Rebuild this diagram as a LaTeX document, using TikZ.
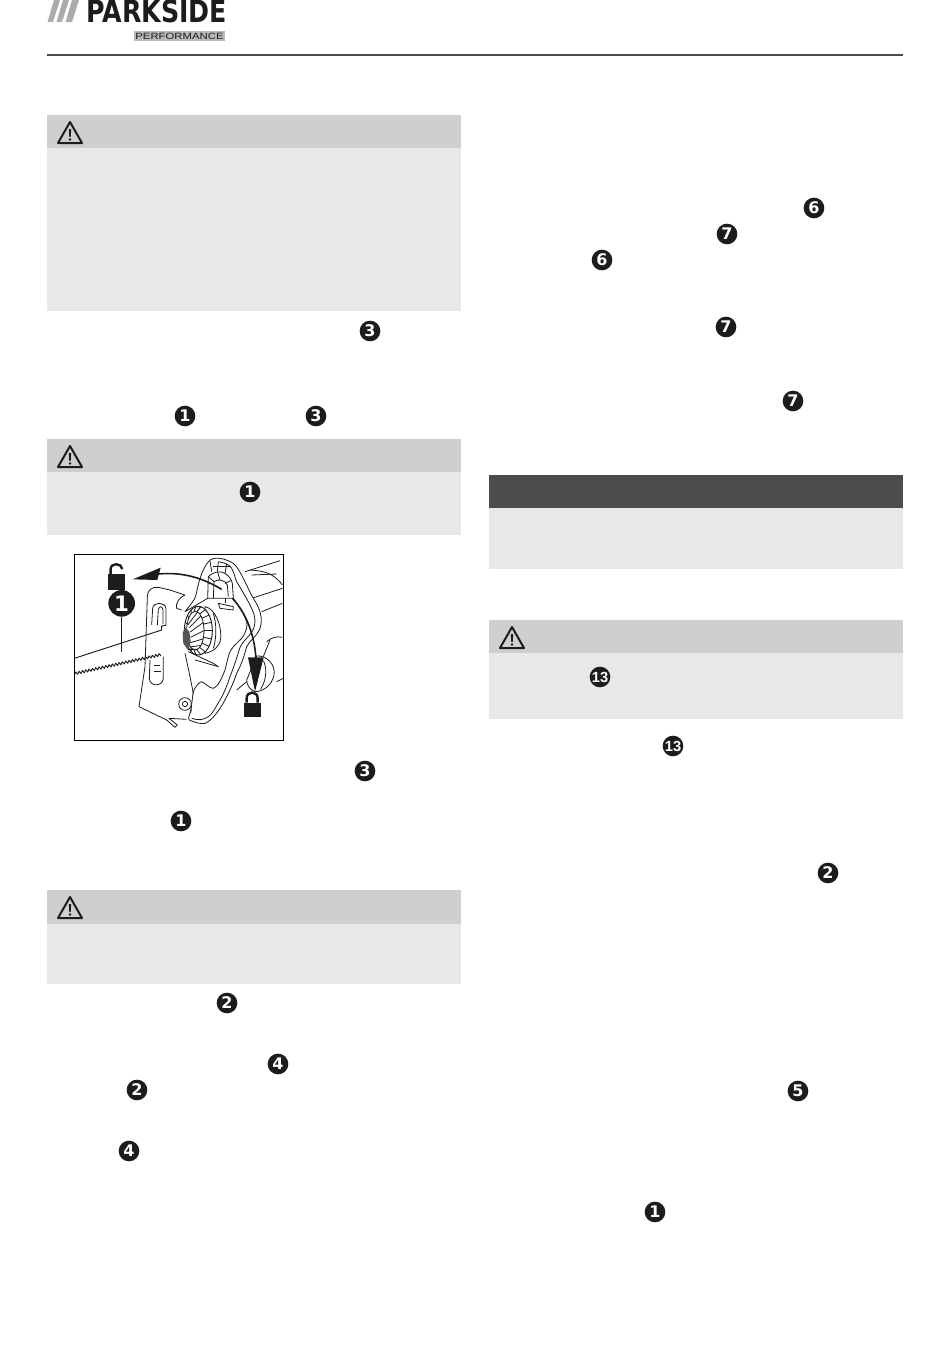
\documentclass[tikz,border=0pt]{standalone}
\usepackage{fontspec}
\setmainfont{Liberation Sans}
\newfontfamily\logofont{DejaVu Sans}
\definecolor{hdr}{HTML}{CFCFCF}
\definecolor{bodyg}{HTML}{E8E8E8}
\definecolor{darkbar}{HTML}{4D4B4B}
\definecolor{ink}{HTML}{1D1B1B}
\tikzset{
  x=0.75pt,y=-0.75pt,
  badge/.style={circle,fill=ink,text=white,inner sep=0pt,minimum size=15.5pt,font=\logofont\bfseries\fontsize{12}{12}\selectfont},
  badgetwo/.style={badge,font=\bfseries\fontsize{11}{11}\selectfont},
  headbar/.style={fill=hdr},
  bodybar/.style={fill=bodyg},
  dkbar/.style={fill=darkbar},
  art/.style={draw=ink,line width=0.6pt,line join=round},
  artw/.style={art,fill=white},
  heavy/.style={draw=ink,line width=1.2pt},
  shackle/.style={draw=ink,line width=1.8pt},
  warn/.pic={
    \draw[ink,line width=1.5pt,line join=round,fill=none] (0,-11) -- (12,10) -- (-12,10) -- cycle;
    \fill[ink] (-1.2,-4) -- (1.2,-4) -- (0.7,4) -- (-0.7,4) -- cycle;
    \fill[ink] (0,6.5) circle (1.3);
  },
}
\begin{document}
\begin{tikzpicture}
\useasboundingbox (0,0) rectangle (950,1364);
% logo
\begin{scope}
\clip (0,0) rectangle (950,60);
\fill[gray!65] (54,0) -- (60,0) -- (53,22) -- (47.5,22) -- cycle;
\fill[gray!65] (63,0) -- (69,0) -- (62,22) -- (56.5,22) -- cycle;
\fill[gray!65] (72,0) -- (79,0) -- (72,22) -- (65.5,22) -- cycle;
\node[anchor=base west,inner sep=0pt,transform shape,xscale=0.825,font=\logofont\bfseries\fontsize{23}{23}\selectfont,text=ink] (brand) at (86,22) {PARKSIDE};
\end{scope}
\fill[gray!55] (134,31) rectangle (225,41);
\node[anchor=center,inner sep=0pt,transform shape,xscale=1.25,font=\fontsize{6.8}{7}\selectfont,text=ink] (perf) at (179.5,36) {PERFORMANCE};
\draw[line width=1.5pt,draw=black!70] (47,55) -- (903,55);
% bars
\fill[headbar] (47,115) rectangle (461,148);
\fill[bodybar] (47,148) rectangle (461,311);
\fill[headbar] (47,439) rectangle (461,472);
\fill[bodybar] (47,472) rectangle (461,535);
\fill[headbar] (47,890) rectangle (461,924);
\fill[bodybar] (47,924) rectangle (461,984);
\fill[dkbar] (489,475) rectangle (903,508);
\fill[bodybar] (489,508) rectangle (903,569);
\fill[headbar] (489,620) rectangle (903,653);
\fill[bodybar] (489,653) rectangle (903,719);
\pic at (70,133) {warn};
\pic at (70,457) {warn};
\pic at (70,908) {warn};
\pic at (512,638) {warn};
% badges
\node[badge] (b1) at (370,331) {3};
\node[badge] (b2) at (185,416) {1};
\node[badge] (b3) at (316,416) {3};
\node[badge] (b4) at (250,492) {1};
\node[badge] (b5) at (365,771) {3};
\node[badge] (b6) at (181,821) {1};
\node[badge] (b7) at (227,1003) {2};
\node[badge] (b8) at (278,1064) {4};
\node[badge] (b9) at (137,1090) {2};
\node[badge] (b10) at (129,1151) {4};
\node[badge] (b11) at (814,208) {6};
\node[badge] (b12) at (727,234) {7};
\node[badge] (b13) at (602,260) {6};
\node[badge] (b14) at (726,327) {7};
\node[badge] (b15) at (793,401) {7};
\node[badgetwo] (b16) at (600,677) {13};
\node[badgetwo] (b17) at (673,746) {13};
\node[badge] (b18) at (828,873) {2};
\node[badge] (b19) at (798,1091) {5};
\node[badge] (b20) at (655,1212) {1};
% figure, coordinates in zoom pixels
\begin{scope}[shift={(70,550)},x=0.25pt,y=-0.25pt]
\begin{scope}
\clip (13,13) rectangle (640,572);
% tool body at the right
\draw[art] (525,65) -- (630,32);
\draw[art] (540,60) .. controls (570,62) and (610,65) .. (637,105);
\draw[art] (545,75) -- (620,72);
\draw[art] (545,145) -- (637,115);
\draw[art] (575,185) -- (637,160);
\draw[art] (590,275) .. controls (605,262) and (620,258) .. (637,262);
\draw[art] (580,320) -- (600,270);
\draw[art] (620,395) -- (640,385);
\draw[art] (500,420) -- (530,395);
\draw[artw] (560,318) .. controls (590,315) and (618,345) .. (612,375) .. controls (605,410) and (575,425) .. (555,425) .. controls (540,420) and (530,405) .. (530,390) -- cycle;
\draw[art] (580,332) .. controls (590,350) and (592,385) .. (572,418);
% blade
\draw[art,line width=0.7pt] (13,325) -- (275,240) -- (275,228) -- (288,226);
\draw[art,line width=0.7pt] (13,375)
 \foreach \i in {1,...,26} { -- ++(4,-9) -- ++(6,6.8) };
% plate
\draw[art] (300,120) -- (345,135) .. controls (330,140) and (315,160) .. (320,175) -- (335,180);
\draw[art] (300,120) -- (265,112) .. controls (245,110) and (232,120) .. (232,142) -- (225,350) -- (207,470) -- (290,510) -- (315,532) -- (322,525) -- (297,505) -- (350,508);
\draw[art] (245,225) -- (248,175) .. controls (250,155) and (285,155) .. (288,175) -- (288,225);
\draw[art] (262,225) -- (265,178) .. controls (268,168) and (276,168) .. (279,178) -- (279,222);
\draw[art] (240,330) -- (238,385) .. controls (238,410) and (278,412) .. (280,385) -- (280,320);
\draw[art] (252,345) -- (270,345);
\draw[art] (252,365) -- (272,365);
\draw[art] (345,310) .. controls (352,340) and (362,390) .. (368,420) .. controls (372,440) and (365,470) .. (360,490);
\draw[art] (345,462) circle (19);
\draw[art] (345,462) circle (8);
% lever
\draw[artw] (345,185) .. controls (360,165) and (375,150) .. (378,135) .. controls (385,100) and (395,55) .. (420,30)
  .. controls (440,18) and (470,28) .. (490,40) .. controls (510,55) and (535,120) .. (550,145)
  .. controls (570,175) and (580,205) .. (570,235) .. controls (560,260) and (540,270) .. (530,290)
  .. controls (520,330) and (510,350) .. (500,370) .. controls (490,400) and (480,420) .. (470,440)
  .. controls (455,470) and (430,510) .. (405,520) .. controls (395,522) and (380,520) .. (358,510)
  .. controls (352,505) and (360,490) .. (363,485) .. controls (365,460) and (368,435) .. (372,420)
  .. controls (380,405) and (390,395) .. (395,395) .. controls (405,400) and (420,415) .. (430,415)
  .. controls (445,410) and (455,385) .. (465,360) -- (475,320) .. controls (480,295) and (500,280) .. (515,265)
  .. controls (530,245) and (535,225) .. (528,210) .. controls (520,185) and (500,160) .. (490,145)
  -- (413,145) -- cycle;
\draw[art] (445,35) .. controls (465,38) and (480,45) .. (485,55) .. controls (495,75) and (495,85) .. (500,95)
  .. controls (515,120) and (530,145) .. (540,165) .. controls (550,185) and (560,205) .. (552,232)
  .. controls (545,255) and (520,270) .. (510,292) .. controls (500,325) and (490,355) .. (480,380)
  .. controls (472,405) and (462,430) .. (450,450) .. controls (435,475) and (425,495) .. (415,500)
  .. controls (400,510) and (385,512) .. (365,505);
\draw[art] (420,32) -- (425,65);
\draw[art] (445,35) -- (442,65);
\draw[art] (470,42) -- (465,70);
\draw[art] (430,50) -- (480,50);
\draw[art] (413,145) -- (415,80) .. controls (425,68) and (450,60) .. (465,70) .. controls (478,78) and (485,90) .. (487,100) -- (490,145);
\draw[art] (430,145) -- (432,95) .. controls (445,85) and (465,90) .. (472,105) -- (475,140);
\draw[art] (432,95) -- (415,80);
\draw[art] (450,90) -- (443,67);
\draw[art] (465,100) -- (482,92);
\draw[art] (445,160) -- (490,170) -- (490,180) -- (450,175) -- cycle;
\draw[art] (465,160) -- (465,145);
\draw[art] (355,305) -- (430,340);
\draw[art] (375,330) -- (445,350);
\draw[art] (430,340) -- (445,350);
% knob with collar
\draw[artw] (405,170) .. controls (435,175) and (455,225) .. (452,265) .. controls (450,290) and (430,305) .. (405,310) -- cycle;
\draw[art] (430,190) .. controls (440,220) and (440,265) .. (430,295);
\draw[artw,line width=0.7pt] (385,242) ellipse [x radius=42,y radius=73];
\draw[art] (376,242) ellipse [x radius=26,y radius=58];
\foreach \a in {-80,-60,...,80,100,120,...,280}
  \draw[art] ({376+26*cos(\a)},{242+58*sin(\a)}) -- ({385+42*cos(\a)},{242+73*sin(\a)});
\foreach \a in {-75,-50,...,75}
  \draw[art] ({376+26*cos(\a)},{242+58*sin(\a)}) -- ({350+12*cos(\a)},{262+38*sin(\a)});
\fill[ink!75] (345,232) -- (358,245) -- (362,275) -- (352,298) -- (340,280) -- (338,250) -- cycle;
% arrows
\draw[heavy] (455,118) .. controls (400,85) and (340,65) .. (265,72);
\fill[ink] (188,88) -- (272,53) -- (262,90) -- cycle;
\draw[heavy] (487,145) .. controls (530,190) and (555,260) .. (558,330);
\fill[ink] (555,425) -- (534,322) -- (581,322) -- cycle;
% open lock
\fill[ink] (113,73) rectangle (165,120);
\draw[shackle] (122,73) -- (122,57) .. controls (122,38) and (155,38) .. (157,57);
% closed lock
\fill[ink] (521,458) rectangle (572,500);
\draw[shackle] (530,458) -- (530,445) .. controls (530,422) and (563,422) .. (563,445) -- (563,458);
\end{scope}
\draw[black,line width=0.7pt] (13,13) rectangle (640,572);
\node[circle,fill=ink,text=white,inner sep=0pt,minimum size=20pt,font=\logofont\bfseries\fontsize{16}{16}\selectfont] (callout) at (155,160) {1};
\coordinate (calloutend) at (155,305);
\draw[ink,line width=0.7pt] (callout) -- (calloutend);
\end{scope}
\end{tikzpicture}
\end{document}
